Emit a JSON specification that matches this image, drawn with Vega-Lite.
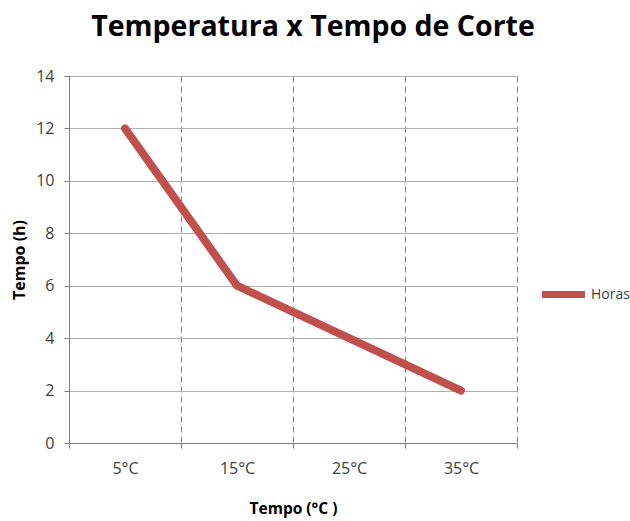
{
  "$schema": "https://vega.github.io/schema/vega-lite/v6.json",
  "autosize": "none",
  "width": 448,
  "height": 367,
  "padding": {"left": 69, "top": 76, "right": 113, "bottom": 78},
  "background": "white",
  "title": {
    "text": "Temperatura x Tempo de Corte",
    "font": "Open Sans",
    "fontSize": 28.5,
    "fontWeight": "bold",
    "color": "#000000",
    "anchor": "middle",
    "frame": "group",
    "dx": 20,
    "dy": 29,
    "baseline": "alphabetic",
    "offset": 33
  },
  "data": {
    "values": [
      {"temp": "5°C", "horas": 12, "serie": "Horas"},
      {"temp": "15°C", "horas": 6, "serie": "Horas"},
      {"temp": "25°C", "horas": 4, "serie": "Horas"},
      {"temp": "35°C", "horas": 2, "serie": "Horas"}
    ]
  },
  "mark": {"type": "line", "strokeWidth": 8, "strokeCap": "round", "strokeJoin": "round"},
  "encoding": {
    "x": {
      "field": "temp",
      "type": "ordinal",
      "sort": null,
      "scale": {"paddingInner": 0, "paddingOuter": 0},
      "axis": {
        "title": "Tempo (°C )",
        "titleFont": "Open Sans",
        "titleFontSize": 15.5,
        "titleFontWeight": "bold",
        "titleColor": "#000000",
        "titlePadding": 25,
        "labelAngle": 0,
        "labelFont": "Open Sans",
        "labelFontSize": 16,
        "labelColor": "#404040",
        "labelPadding": 12,
        "tickBand": "extent",
        "tickSize": 5,
        "tickColor": "#808080",
        "domainColor": "#808080",
        "grid": true,
        "gridColor": "#808080",
        "gridDash": [6, 4],
        "gridWidth": 1
      }
    },
    "y": {
      "field": "horas",
      "type": "quantitative",
      "scale": {"domain": [0, 14]},
      "axis": {
        "title": "Tempo (h)",
        "titleFont": "Open Sans",
        "titleFontSize": 16,
        "titleFontWeight": "bold",
        "titleColor": "#000000",
        "titlePadding": 8,
        "values": [0, 2, 4, 6, 8, 10, 12, 14],
        "labelFont": "Open Sans",
        "labelFontSize": 16,
        "labelColor": "#404040",
        "labelPadding": 10,
        "tickSize": 5,
        "tickColor": "#808080",
        "domainColor": "#808080",
        "grid": true,
        "gridColor": "#b0b0b0",
        "gridWidth": 1
      }
    },
    "color": {
      "field": "serie",
      "type": "nominal",
      "scale": {"range": ["#C0504D"]},
      "legend": {
        "title": null,
        "orient": "none",
        "legendX": 469,
        "legendY": 193,
        "symbolType": "stroke",
        "symbolSize": 1850,
        "symbolStrokeWidth": 7,
        "labelFont": "Open Sans",
        "labelFontSize": 14,
        "labelColor": "#404040",
        "labelOffset": 2
      }
    }
  },
  "config": {"view": {"stroke": null}}
}
